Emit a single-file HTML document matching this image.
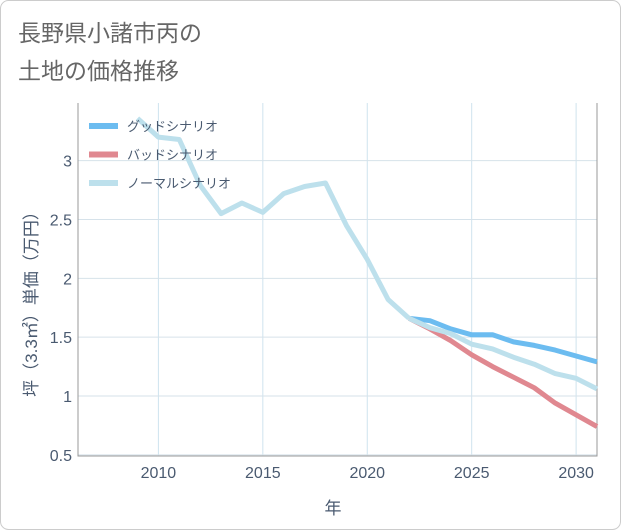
<!DOCTYPE html>
<html><head><meta charset="utf-8"><style>
body{margin:0;background:#fff;}
#wrap{position:relative;width:621px;height:530px;overflow:hidden;}
svg text{font-family:"Liberation Sans","Noto Sans CJK JP",sans-serif;}
</style></head><body>
<div id="wrap">
<svg id="chart" width="621" height="530">
<rect x="0.5" y="0.5" width="620" height="529" rx="8" fill="#fff" stroke="#ccc"/>
<text x="18" y="41" font-size="23" fill="#666">長野県小諸市丙の</text>
<text x="18" y="79" font-size="23" fill="#666">土地の価格推移</text>
<g id="grid"></g>
<g id="series"></g>
<g id="legend"></g>
<text x="333" y="514" font-size="17" fill="#4a5a70" text-anchor="middle">年</text>
<text transform="translate(37,300) rotate(-90)" font-size="17" fill="#4a5a70" text-anchor="middle">坪（3.3㎡）単価（万円）</text>
</svg></div>
<script>
const years=[2009,2010,2011,2012,2013,2014,2015,2016,2017,2018,2019,2020,2021,2022];
const normalHist=[3.36,3.20,3.18,2.79,2.55,2.64,2.56,2.72,2.78,2.81,2.45,2.16,1.82,1.66];
const futureYears=[2022,2023,2024,2025,2026,2027,2028,2029,2030,2031];
const goodVals=[1.66,1.64,1.57,1.52,1.52,1.46,1.43,1.39,1.34,1.29];
const badVals=[1.66,1.57,1.47,1.35,1.25,1.16,1.07,0.94,0.84,0.74];
const normalVals=[1.66,1.58,1.53,1.44,1.40,1.33,1.27,1.19,1.15,1.06];
const xTicks=[2010,2015,2020,2025,2030];
const yTicks=[0.5,1,1.5,2,2.5,3];
const yTickLabels=["0.5","1","1.5","2","2.5","3"];
const seriesNames=["グッドシナリオ","バッドシナリオ","ノーマルシナリオ"];
const seriesColors=["#6cbcf0","#e08890","#bde0ec"];
const X0=78,X1=597,Y0=103,Y1=456;
const xMin=2006.15,xMax=2031,yMin=0.49,yMax=3.49;
const xs=v=>X0+(v-xMin)/(xMax-xMin)*(X1-X0);
const ys=v=>Y1-(v-yMin)/(yMax-yMin)*(Y1-Y0);
const NS="http://www.w3.org/2000/svg";
const grid=document.getElementById('grid');
function mk(tag,attrs,parent){const e=document.createElementNS(NS,tag);for(const k in attrs)e.setAttribute(k,attrs[k]);parent.appendChild(e);return e;}
xTicks.forEach(t=>{
 const l=mk('line',{x1:xs(t),x2:xs(t),y1:Y0,y2:Y1,stroke:'#cfe3ee','stroke-width':1},grid);
 
 
 const tx=mk('text',{x:xs(t),y:Y1+22,'font-size':16,fill:'#4a5a70','text-anchor':'middle'},grid);
 tx.textContent=t;
 
 
});
yTicks.forEach((t,i)=>{
 const l=mk('line',{x1:X0,x2:X1,y1:ys(t),y2:ys(t),stroke:'#d6e2ea','stroke-width':1},grid);
 
 
 const tx=mk('text',{x:X0-6,y:ys(t)+6,'font-size':16,fill:'#4a5a70','text-anchor':'end'},grid);
 tx.textContent=yTickLabels[i];
 
 
});
const ax=mk('path',{d:`M${X0},${Y0}V${Y1}H${X1}V${Y0}`,fill:'none',stroke:'#999','stroke-width':1},grid);


const sg=document.getElementById('series');
function line(xv,yv,color,name){
 const d=xv.map((x,i)=>(i?'L':'M')+xs(x).toFixed(1)+','+ys(yv[i]).toFixed(1)).join('');
 const p=mk('path',{d,fill:'none',stroke:color,'stroke-width':5,'stroke-linejoin':'round'},sg);
 
 
}
line(futureYears,goodVals,seriesColors[0],'good-scenario-line');
line(futureYears,badVals,seriesColors[1],'bad-scenario-line');
line(futureYears,normalVals,seriesColors[2],'normal-scenario-line');
line(years,normalHist,seriesColors[2],'historical-price-line');
const lg=document.getElementById('legend');
seriesNames.forEach((n,i)=>{
 const y=126+i*28.5;
 const r=mk('rect',{x:89,y:y-3,width:29,height:6,fill:seriesColors[i]},lg);
 
 
 const t=mk('text',{x:127,y:y+5,'font-size':13,fill:'#4a5a70'},lg);
 t.textContent=n;
 
 
});
</script>
</body></html>
